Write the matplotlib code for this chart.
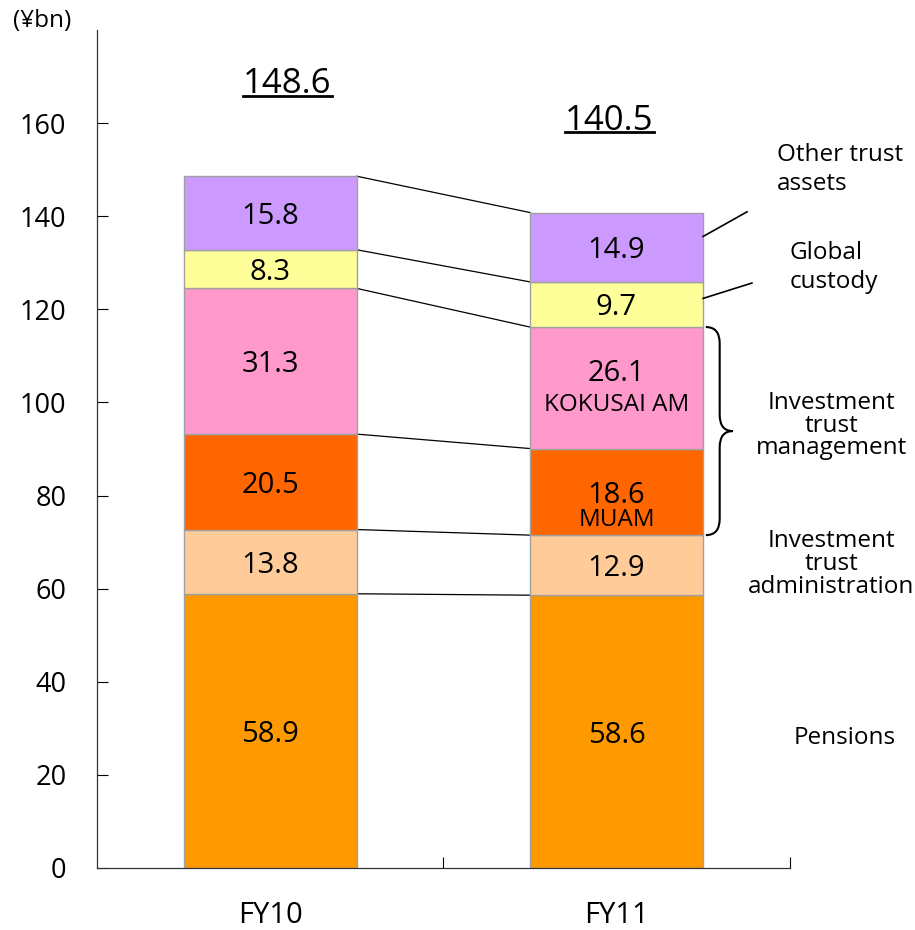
import numpy as np
import matplotlib
matplotlib.use("Agg")
import matplotlib.pyplot as plt
from matplotlib.path import Path
from matplotlib.patches import PathPatch

plt.rcParams['font.family'] = ['Open Sans', 'DejaVu Sans']

years = ["FY10", "FY11"]
segments = ["Pensions", "Investment trust administration", "MUAM",
            "KOKUSAI AM", "Global custody", "Other trust assets"]
values = {
    "FY10": [58.9, 13.8, 20.5, 31.3, 8.3, 15.8],
    "FY11": [58.6, 12.9, 18.6, 26.1, 9.7, 14.9],
}
totals = ["148.6", "140.5"]
colors = ["#FF9900", "#FFCC99", "#FF6600", "#FF99CC", "#FFFF99", "#CC99FF"]

fig = plt.figure(figsize=(9.15, 9.3), dpi=100)
ax = fig.add_axes([0.106, 0.0667, 0.757, 0.901])

x = np.arange(len(years))
width = 0.5
bottoms = {}
for i, yr in enumerate(years):
    vals = np.array(values[yr])
    b = np.concatenate([[0], np.cumsum(vals)[:-1]])
    bottoms[yr] = b
    ax.bar(np.full(len(vals), x[i]), vals, width, bottom=b, color=colors,
           edgecolor="#A0A0A0", linewidth=1, zorder=2)

# value labels
for i, yr in enumerate(years):
    vals = values[yr]
    for j, v in enumerate(vals):
        mid = bottoms[yr][j] + v / 2
        if yr == "FY11" and segments[j] == "KOKUSAI AM":
            ax.text(x[i], mid + 3.8, f"{v:.1f}", ha="center", va="center_baseline", fontsize=21)
            ax.text(x[i], mid - 3.0, "KOKUSAI AM", ha="center", va="center_baseline", fontsize=17.5)
        elif yr == "FY11" and segments[j] == "MUAM":
            ax.text(x[i], mid, f"{v:.1f}", ha="center", va="center_baseline", fontsize=21)
            ax.text(x[i], mid - 5.3, "MUAM", ha="center", va="center_baseline", fontsize=17.5)
        else:
            ax.text(x[i], mid, f"{v:.1f}", ha="center", va="center_baseline", fontsize=21)

# connecting lines between bars
tops0 = np.cumsum(values["FY10"])
tops1 = np.cumsum(values["FY11"])
for a, b in zip(tops0, tops1):
    ax.plot([x[0] + width / 2, x[1] - width / 2], [a, b], color="black", lw=0.9, zorder=1)

# totals, underlined
total_texts = []
for xi, tot, top, dx in zip(x, totals, [tops0[-1], tops1[-1]], [0.05, -0.02]):
    t = ax.text(xi + dx, top + 17.8, tot, ha="center", va="baseline", fontsize=25)
    total_texts.append(t)

ax.set_xlim(-0.5, 1.5)
ax.set_ylim(0, 180)
ax.set_yticks(np.arange(0, 161, 20))
ax.set_xticks(x)
ax.set_xticklabels(years, fontsize=21)
ax.set_xticks([0.5, 1.5], minor=True)
ax.tick_params(axis="y", direction="in", length=8, labelsize=19.5, pad=22, width=0.8)
ax.tick_params(axis="x", which="major", length=0, pad=24)
ax.tick_params(axis="x", which="minor", direction="in", length=8, width=0.8)
for s in ["top", "right"]:
    ax.spines[s].set_visible(False)
for s in ["left", "bottom"]:
    ax.spines[s].set_color("#333333")
    ax.spines[s].set_linewidth(0.9)

# right-hand annotations
kw = dict(fontsize=17.5, clip_on=False)
ax.text(1.464, 150.0, "Other trust\nassets", ha="left", va="center", linespacing=1.3, **kw)
ax.text(1.499, 129.0, "Global\ncustody", ha="left", va="center", linespacing=1.3, **kw)
ax.text(1.62, 95.0, "Investment\ntrust\nmanagement", ha="center", va="center", linespacing=0.92, **kw)
ax.text(1.62, 65.3, "Investment\ntrust\nadministration", ha="center", va="center", linespacing=0.92, **kw)
ax.text(1.658, 28.0, "Pensions", ha="center", va="center", **kw)

other_mid = bottoms["FY11"][5] + values["FY11"][5] / 2
glob_mid = bottoms["FY11"][4] + values["FY11"][4] / 2
ax.plot([1.25, 1.377], [other_mid + 2.3, other_mid + 7.6], color="black", lw=1.2, clip_on=False)
ax.plot([1.25, 1.391], [glob_mid + 1.3, glob_mid + 4.6], color="black", lw=1.2, clip_on=False)

# brace spanning investment trust management (MUAM + KOKUSAI AM)
ytop = tops1[3]
ybot = bottoms["FY11"][2]
ymid = (ytop + ybot) / 2
x0, x1, x2 = 1.258, 1.298, 1.336
r = 3.5
verts = [(x0, ytop), (x1, ytop), (x1, ytop - r),
         (x1, ymid + r),
         (x1, ymid), (x2, ymid),
         (x1, ymid), (x1, ymid - r),
         (x1, ybot + r),
         (x1, ybot), (x0, ybot)]
codes = [Path.MOVETO, Path.CURVE3, Path.CURVE3,
         Path.LINETO,
         Path.CURVE3, Path.CURVE3,
         Path.CURVE3, Path.CURVE3,
         Path.LINETO,
         Path.CURVE3, Path.CURVE3]
ax.add_patch(PathPatch(Path(verts, codes), fill=False, lw=1.5, edgecolor="black", clip_on=False))

fig.text(0.046, 0.977, "(¥bn)", ha="center", va="center", fontsize=17.5)

# underline the totals just below the baseline
fig.canvas.draw()
renderer = fig.canvas.get_renderer()
inv = ax.transData.inverted()
for t in total_texts:
    bb = t.get_window_extent(renderer)
    xa = inv.transform((bb.x0, bb.y0))[0]
    xb = inv.transform((bb.x1, bb.y1))[0]
    yb = t.get_position()[1] - 0.6
    ax.plot([xa, xb], [yb, yb], color="black", lw=2, clip_on=False)

fig.savefig("out.png", dpi=100)
